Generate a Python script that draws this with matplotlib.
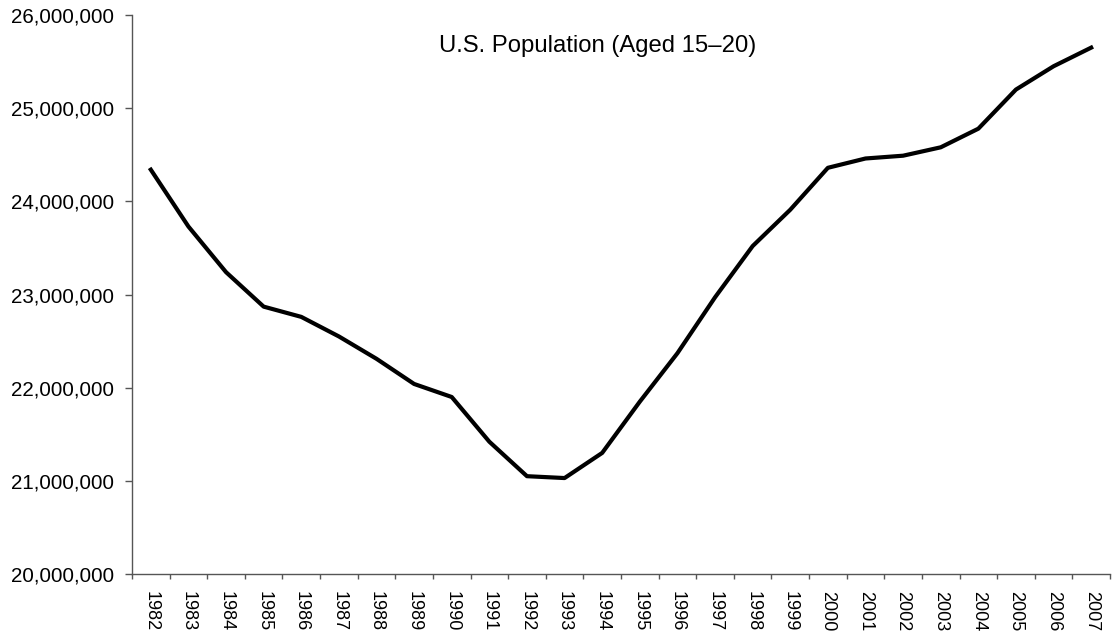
import matplotlib
matplotlib.use("Agg")
import matplotlib.pyplot as plt
from matplotlib.ticker import FuncFormatter, FixedLocator

plt.rcParams['font.family'] = ['Liberation Sans', 'DejaVu Sans']

years = [str(y) for y in range(1982, 2008)]
population = [24340000, 23730000, 23240000, 22870000, 22760000, 22550000,
              22310000, 22040000, 21900000, 21420000, 21050000, 21030000,
              21300000, 21850000, 22370000, 22970000, 23520000, 23910000,
              24360000, 24460000, 24490000, 24580000, 24780000, 25200000,
              25450000, 25650000]
label = "U.S. Population (Aged 15\u201320)"

fig = plt.figure(figsize=(11.12, 6.39), dpi=100)
ax = fig.add_axes([0.1187, 0.1017, 0.8795, 0.8748])

x = list(range(len(years)))
ax.plot(x, population, color='black', lw=3.0)

ax.set_xlim(-0.5, len(years) - 0.5)
ax.set_ylim(20000000, 26000000)
ax.set_yticks(range(20000000, 26000001, 1000000))
ax.yaxis.set_major_formatter(FuncFormatter(lambda v, p: f"{int(v):,}"))

ax.set_xticks(x)
ax.set_xticklabels(years, rotation=270, fontsize=13, va='top', ha='center')
ax.xaxis.set_minor_locator(FixedLocator([i - 0.5 for i in range(len(years) + 1)]))
ax.tick_params(axis='x', which='major', length=0, pad=12.5)
ax.tick_params(axis='x', which='minor', length=3.6, color='#555555', width=1)
ax.tick_params(axis='y', length=4.7, color='#555555', width=1, labelsize=14.8, pad=8.5)

for s in ['top', 'right']:
    ax.spines[s].set_visible(False)
for s in ['left', 'bottom']:
    ax.spines[s].set_color('#555555')
    ax.spines[s].set_linewidth(1)

ax.text(0.476, 0.944, label, transform=ax.transAxes, ha='center', va='center',
        fontsize=17.2)

fig.savefig("out.png", dpi=100)
